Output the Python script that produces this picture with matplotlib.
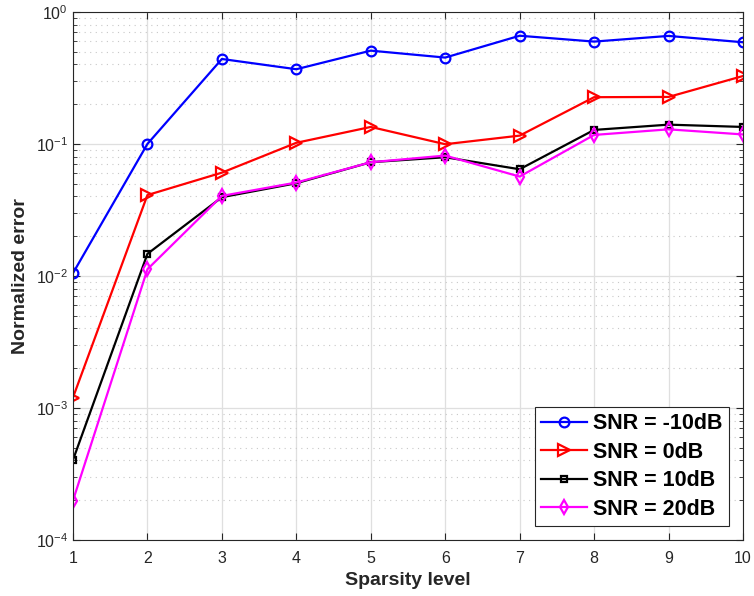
import matplotlib
matplotlib.use("Agg")
from matplotlib import pyplot as plt
from matplotlib import ticker

plt.rcParams["font.family"] = ["Liberation Sans", "DejaVu Sans"]

sparsity = [1, 2, 3, 4, 5, 6, 7, 8, 9, 10]
err_m10 = [0.0105, 0.100, 0.44, 0.368, 0.509, 0.451, 0.66, 0.596, 0.658, 0.589]
err_0 = [0.0012, 0.041, 0.0606, 0.102, 0.1345, 0.0995, 0.1156, 0.226, 0.227, 0.327]
err_10 = [0.000404, 0.0147, 0.0395, 0.0504, 0.0727, 0.0793, 0.0643, 0.1277, 0.140, 0.1345]
err_20 = [0.000199, 0.01124, 0.0404, 0.051, 0.0727, 0.0816, 0.0566, 0.117, 0.129, 0.118]

fig = plt.figure(figsize=(7.54, 5.96), dpi=100)
ax = fig.add_axes([0.0968, 0.094, 0.8886, 0.886])

ax.semilogy(sparsity, err_m10, "-o", color="#0000ff", lw=1.6, ms=7, mfc="none", mew=1.6,
            label="SNR = -10dB")
ax.semilogy(sparsity, err_0, "->", color="#ff0000", lw=1.6, ms=8, mfc="none", mew=1.6,
            label="SNR = 0dB")
ax.semilogy(sparsity, err_10, "-s", color="#000000", lw=1.6, ms=4.5, mfc="none", mew=1.6,
            label="SNR = 10dB")
ax.semilogy(sparsity, err_20, "-d", color="#ff00ff", lw=1.6, ms=7.5, mfc="none", mew=1.6,
            label="SNR = 20dB")

ax.set_xlim(1, 10)
ax.set_ylim(1e-4, 1)
ax.xaxis.set_major_locator(ticker.MultipleLocator(1))
ax.yaxis.set_major_locator(ticker.LogLocator(base=10, numticks=10))
ax.yaxis.set_minor_locator(ticker.LogLocator(base=10, subs=range(2, 10), numticks=10))
ax.yaxis.set_minor_formatter(ticker.NullFormatter())

ax.grid(True, which="major", color="#dfdfdf", lw=0.9)
ax.grid(True, which="minor", axis="y", color="#c8c8c8", lw=0.8, ls=(0, (1, 4)))
ax.set_axisbelow(True)

ax.tick_params(which="both", direction="in", top=True, right=True, colors="#262626",
               labelsize=11.5)
ax.tick_params(which="major", length=5)
ax.tick_params(which="minor", length=3)
ax.tick_params(axis="x", pad=8)
for sp in ax.spines.values():
    sp.set_color("#262626")

ax.set_xlabel("Sparsity level", fontsize=14, fontweight="bold", color="#262626", labelpad=4)
ax.set_ylabel("Normalized error", fontsize=14, fontweight="bold", color="#262626", labelpad=5)

leg = ax.legend(loc="lower right", bbox_to_anchor=(0.979, 0.026), fancybox=False,
                framealpha=1, edgecolor="#262626", handlelength=2.1,
                prop={"weight": "bold", "size": 15.5}, borderpad=0.3, labelspacing=0.35,
                handletextpad=0.3, borderaxespad=0)
leg.get_frame().set_linewidth(0.8)

fig.savefig("out.png", dpi=100)
